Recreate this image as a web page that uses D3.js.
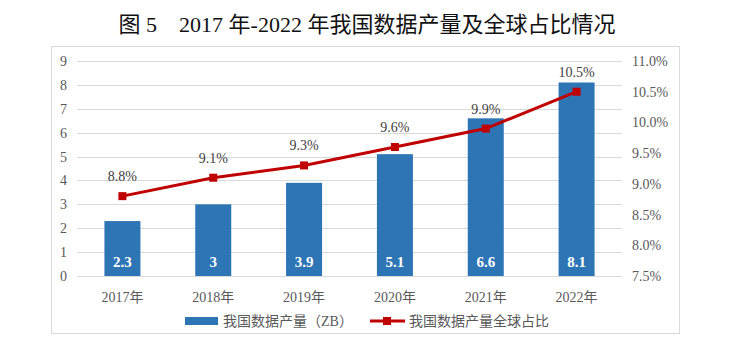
<!DOCTYPE html>
<html>
<head>
<meta charset="utf-8">
<script src="https://cdn.jsdelivr.net/npm/d3@7"></script>
<style>
  body { margin: 0; background: #fff; }
  svg text { font-family: "Liberation Serif", "Noto Sans CJK SC", serif; }
</style>
</head>
<body>
<svg width="730" height="351"></svg>
<script>
var years = ['2017年', '2018年', '2019年', '2020年', '2021年', '2022年'];
var volume = [2.3, 3, 3.9, 5.1, 6.6, 8.1];
var share = [8.8, 9.1, 9.3, 9.6, 9.9, 10.5];
var leftTicks = [0, 1, 2, 3, 4, 5, 6, 7, 8, 9];
var rightTicks = [7.5, 8.0, 8.5, 9.0, 9.5, 10.0, 10.5, 11.0];

var svg = d3.select('svg');
var plotLeft = 77, plotRight = 622, plotTop = 61, plotBottom = 276;

var x = d3.scaleBand().domain(years).range([plotLeft, plotRight]);
var yL = d3.scaleLinear().domain([0, 9]).range([plotBottom, plotTop]);
var yR = d3.scaleLinear().domain([7.5, 11]).range([plotBottom, plotTop]);
var cx = (d, i) => x(years[i]) + x.bandwidth() / 2;

// title
svg.append('text')
   .attr('x', 367).attr('y', 32)
   .attr('text-anchor', 'middle')
   .attr('font-size', 22)
   .attr('fill', '#111')
   .text('图 5\u00a0\u00a0\u00a0\u00a02017 年-2022 年我国数据产量及全球占比情况');

// frame
svg.append('rect')
   .attr('x', 51.5).attr('y', 46.5)
   .attr('width', 628).attr('height', 287)
   .attr('fill', 'none').attr('stroke', '#d9d9d9');

// grid
svg.selectAll('line.grid')
   .data(leftTicks)
   .enter()
   .append('line')
     .attr('class', 'grid')
     .attr('x1', plotLeft).attr('x2', plotRight)
     .attr('y1', d => Math.round(yL(d)) + 0.5)
     .attr('y2', d => Math.round(yL(d)) + 0.5)
     .attr('stroke', '#d9d9d9');

// left axis labels
svg.selectAll('text.yl')
   .data(leftTicks)
   .enter()
   .append('text')
     .attr('class', 'yl')
     .attr('x', 67).attr('y', d => yL(d) + 5)
     .attr('text-anchor', 'end')
     .attr('font-size', 14)
     .attr('fill', '#595959')
     .text(d => d);

// right axis labels
svg.selectAll('text.yr')
   .data(rightTicks)
   .enter()
   .append('text')
     .attr('class', 'yr')
     .attr('x', 632).attr('y', d => yR(d) + 5)
     .attr('font-size', 14)
     .attr('fill', '#595959')
     .text(d => d.toFixed(1) + '%');

// x labels
svg.selectAll('text.xl')
   .data(years)
   .enter()
   .append('text')
     .attr('class', 'xl')
     .attr('x', d => x(d) + x.bandwidth() / 2)
     .attr('y', 302)
     .attr('text-anchor', 'middle')
     .attr('font-size', 14)
     .attr('fill', '#595959')
     .text(d => d);

// bars
var barW = 36;
svg.selectAll('rect.bar')
   .data(volume)
   .enter()
   .append('rect')
     .attr('class', 'bar')
     .attr('x', (d, i) => cx(d, i) - barW / 2)
     .attr('y', d => yL(d))
     .attr('width', barW)
     .attr('height', d => yL(0) - yL(d))
     .attr('fill', '#2e75b6');

svg.selectAll('text.bl')
   .data(volume)
   .enter()
   .append('text')
     .attr('class', 'bl')
     .attr('x', cx)
     .attr('y', 267)
     .attr('text-anchor', 'middle')
     .attr('font-size', 15)
     .attr('font-weight', 'bold')
     .attr('fill', '#fff')
     .text(d => d);

// line
var line = d3.line()
             .x(cx)
             .y(d => yR(d));

svg.append('path')
   .datum(share)
   .attr('d', line)
   .attr('fill', 'none')
   .attr('stroke', '#c00000')
   .attr('stroke-width', 3);

svg.selectAll('rect.pt')
   .data(share)
   .enter()
   .append('rect')
     .attr('class', 'pt')
     .attr('x', (d, i) => cx(d, i) - 4)
     .attr('y', d => yR(d) - 4)
     .attr('width', 8).attr('height', 8)
     .attr('fill', '#c00000');

svg.selectAll('text.pl')
   .data(share)
   .enter()
   .append('text')
     .attr('class', 'pl')
     .attr('x', cx)
     .attr('y', d => yR(d) - 15)
     .attr('text-anchor', 'middle')
     .attr('font-size', 14)
     .attr('fill', '#404040')
     .text(d => d.toFixed(1) + '%');

// legend
svg.append('rect')
   .attr('x', 185).attr('y', 317)
   .attr('width', 33).attr('height', 8)
   .attr('fill', '#2e75b6');
svg.append('text')
   .attr('x', 223).attr('y', 326)
   .attr('font-size', 14)
   .attr('fill', '#595959')
   .text('我国数据产量（ZB）');
svg.append('line')
   .attr('x1', 370).attr('x2', 405)
   .attr('y1', 321).attr('y2', 321)
   .attr('stroke', '#c00000').attr('stroke-width', 3);
svg.append('rect')
   .attr('x', 383).attr('y', 317)
   .attr('width', 8).attr('height', 8)
   .attr('fill', '#c00000');
svg.append('text')
   .attr('x', 409).attr('y', 326)
   .attr('font-size', 14)
   .attr('fill', '#595959')
   .text('我国数据产量全球占比');
</script>
</body>
</html>
